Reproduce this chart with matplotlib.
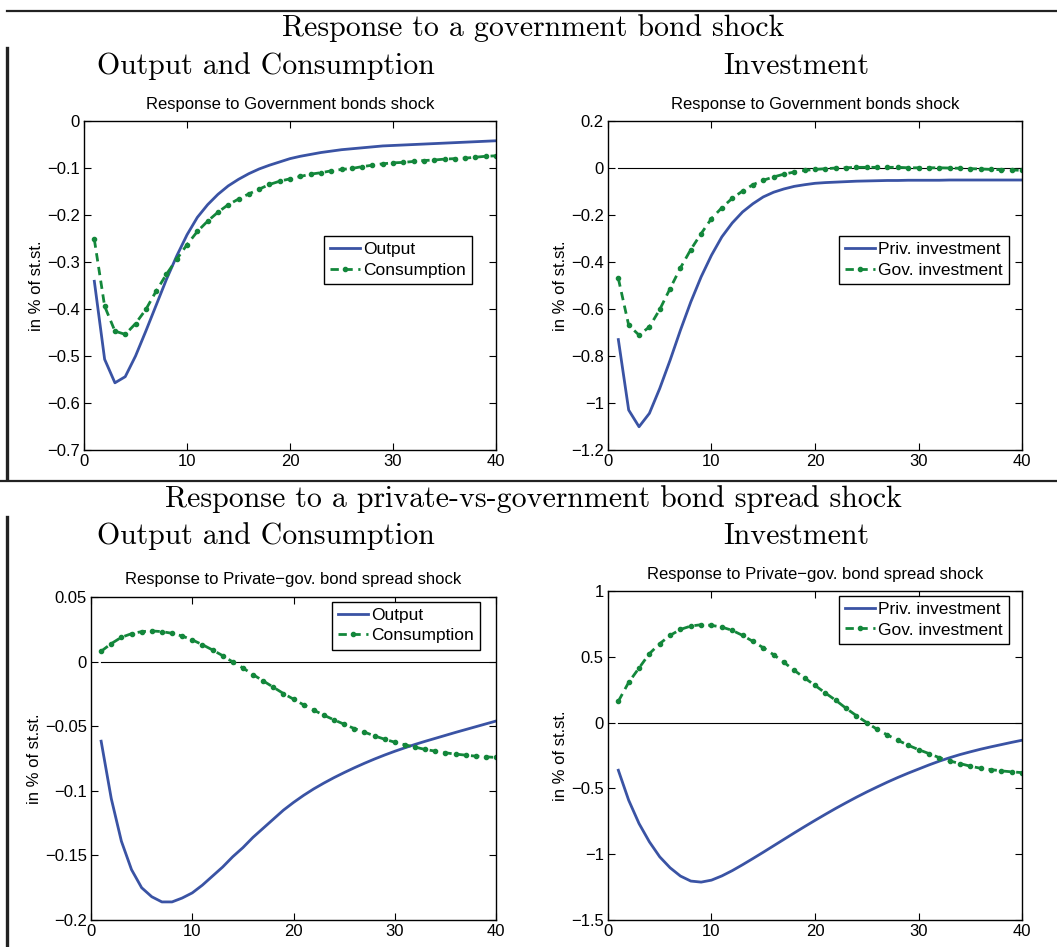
import matplotlib
matplotlib.use('Agg')
import matplotlib.pyplot as plt
from matplotlib.lines import Line2D

BLUE = '#3a53a4'
GREEN = '#13873b'

periods = list(range(1, 41))

# Government bond shock
gov_output = [-0.341, -0.507, -0.557, -0.544, -0.500, -0.447, -0.392, -0.337, -0.287, -0.242,
              -0.205, -0.178, -0.156, -0.138, -0.124, -0.112, -0.102, -0.094, -0.087, -0.080,
              -0.075, -0.071, -0.067, -0.064, -0.061, -0.059, -0.057, -0.055, -0.053, -0.052,
              -0.051, -0.050, -0.049, -0.048, -0.047, -0.046, -0.045, -0.044, -0.043, -0.042]
gov_consumption = [-0.252, -0.394, -0.447, -0.454, -0.431, -0.401, -0.362, -0.326, -0.294, -0.263,
                   -0.235, -0.213, -0.194, -0.178, -0.166, -0.155, -0.145, -0.135, -0.128, -0.123,
                   -0.118, -0.113, -0.110, -0.106, -0.103, -0.101, -0.097, -0.094, -0.091, -0.089,
                   -0.088, -0.086, -0.084, -0.083, -0.081, -0.080, -0.079, -0.077, -0.075, -0.074]
gov_priv_inv = [-0.730, -1.030, -1.101, -1.044, -0.938, -0.818, -0.690, -0.570, -0.463, -0.371,
                -0.293, -0.234, -0.187, -0.152, -0.123, -0.103, -0.089, -0.078, -0.071, -0.065,
                -0.062, -0.060, -0.058, -0.056, -0.055, -0.054, -0.053, -0.053, -0.052, -0.052,
                -0.052, -0.052, -0.051, -0.051, -0.051, -0.051, -0.051, -0.051, -0.051, -0.051]
gov_gov_inv = [-0.470, -0.669, -0.711, -0.676, -0.602, -0.513, -0.425, -0.347, -0.279, -0.215,
               -0.169, -0.129, -0.098, -0.071, -0.052, -0.038, -0.026, -0.017, -0.010, -0.006,
               -0.003, 0.000, 0.001, 0.003, 0.003, 0.003, 0.003, 0.003, 0.001, 0.001,
               0.001, 0.001, 0.000, -0.001, -0.003, -0.004, -0.006, -0.007, -0.008, -0.010]

# Private-vs-government bond spread shock
spr_output = [-0.0616, -0.106, -0.139, -0.161, -0.175, -0.182, -0.186, -0.186, -0.183, -0.179,
              -0.173, -0.166, -0.159, -0.151, -0.144, -0.136, -0.129, -0.122, -0.115, -0.109,
              -0.1035, -0.0985, -0.0940, -0.0898, -0.0859, -0.0822, -0.0787, -0.0754, -0.0723, -0.0694,
              -0.0667, -0.0641, -0.0617, -0.0594, -0.0571, -0.0548, -0.0526, -0.0504, -0.0482, -0.0460]
spr_consumption = [0.0080, 0.0139, 0.0188, 0.0216, 0.0232, 0.0237, 0.0232, 0.0219, 0.0198, 0.0168,
                   0.0131, 0.0090, 0.0046, -0.0003, -0.0049, -0.0101, -0.0149, -0.0198, -0.0247, -0.0291,
                   -0.0335, -0.0376, -0.0415, -0.0451, -0.0485, -0.0518, -0.0546, -0.0575, -0.0601, -0.0624,
                   -0.0644, -0.0662, -0.0680, -0.0693, -0.0706, -0.0716, -0.0724, -0.0732, -0.0737, -0.0742]
spr_priv_inv = [-0.362, -0.590, -0.767, -0.906, -1.020, -1.103, -1.166, -1.204, -1.212, -1.197,
                -1.165, -1.125, -1.080, -1.033, -0.985, -0.936, -0.887, -0.838, -0.790, -0.743,
                -0.697, -0.652, -0.609, -0.567, -0.527, -0.489, -0.452, -0.417, -0.384, -0.353,
                -0.322, -0.293, -0.267, -0.243, -0.222, -0.202, -0.184, -0.167, -0.150, -0.134]
spr_gov_inv = [0.162, 0.306, 0.415, 0.524, 0.600, 0.663, 0.708, 0.734, 0.744, 0.739,
               0.726, 0.701, 0.663, 0.617, 0.569, 0.516, 0.458, 0.397, 0.339, 0.283,
               0.225, 0.170, 0.109, 0.053, 0.000, -0.051, -0.094, -0.134, -0.172, -0.205,
               -0.235, -0.266, -0.291, -0.311, -0.331, -0.347, -0.357, -0.367, -0.374, -0.380]

gov_title = 'Response to Government bonds shock'
spr_title = 'Response to Private\u2212gov. bond spread shock'

plt.rcParams['font.family'] = ['Liberation Sans', 'DejaVu Sans']
SERIF = ['cmr10', 'DejaVu Serif']


def panel(fig, rect, y1, y2, labels, title, ylim, yticks, ytick_labels, zero_line, legend_loc):
    ax = fig.add_axes(rect)
    if zero_line:
        ax.plot([periods[0], periods[-1]], [0, 0], color='black', lw=0.8)
    ax.plot(periods, y1, color=BLUE, lw=2, label=labels[0])
    ax.plot(periods, y2, color=GREEN, lw=2, ls=(0, (3, 2)), marker='.', ms=6, label=labels[1])
    ax.set_xlim(0, 40)
    ax.set_ylim(*ylim)
    ax.set_xticks([0, 10, 20, 30, 40])
    ax.set_yticks(yticks)
    ax.set_yticklabels(ytick_labels)
    ax.tick_params(direction='in', top=True, right=True, labelsize=12, length=5, pad=3)
    ax.set_ylabel('in % of st.st.', fontsize=12, labelpad=2)
    ax.set_title(title, fontsize=12, pad=9)
    for s in ax.spines.values():
        s.set_linewidth(1)
    leg = ax.legend(loc='upper left', bbox_to_anchor=legend_loc, fontsize=12.5,
                    handlelength=1.7, handletextpad=0.2, borderpad=0.35, labelspacing=0.3,
                    borderaxespad=0, fancybox=False, edgecolor='black', framealpha=1)
    leg.get_frame().set_linewidth(1)
    return ax


fig = plt.figure(figsize=(10.57, 9.47), dpi=100)

panel(fig, [0.0795, 0.5248, 0.3898, 0.3474], gov_output, gov_consumption,
      ['Output', 'Consumption'], gov_title, (-0.7, 0),
      [-0.7, -0.6, -0.5, -0.4, -0.3, -0.2, -0.1, 0],
      ['\u22120.7', '\u22120.6', '\u22120.5', '\u22120.4', '\u22120.3', '\u22120.2', '\u22120.1', '0'],
      False, (0.583, 0.65))
panel(fig, [0.5752, 0.5248, 0.3917, 0.3474], gov_priv_inv, gov_gov_inv,
      ['Priv. investment', 'Gov. investment'], gov_title, (-1.2, 0.2),
      [-1.2, -1.0, -0.8, -0.6, -0.4, -0.2, 0, 0.2],
      ['\u22121.2', '\u22121', '\u22120.8', '\u22120.6', '\u22120.4', '\u22120.2', '0', '0.2'],
      True, (0.558, 0.65))
panel(fig, [0.0861, 0.0285, 0.3832, 0.3411], spr_output, spr_consumption,
      ['Output', 'Consumption'], spr_title, (-0.2, 0.05),
      [-0.2, -0.15, -0.1, -0.05, 0, 0.05],
      ['\u22120.2', '\u22120.15', '\u22120.1', '\u22120.05', '0', '0.05'],
      True, (0.595, 0.985))
panel(fig, [0.5752, 0.0285, 0.3917, 0.3474], spr_priv_inv, spr_gov_inv,
      ['Priv. investment', 'Gov. investment'], spr_title, (-1.5, 1),
      [-1.5, -1, -0.5, 0, 0.5, 1],
      ['\u22121.5', '\u22121', '\u22120.5', '0', '0.5', '1'],
      True, (0.558, 0.985))

# headings
fig.text(533 / 1057, 1 - 28 / 947, 'Response to a government bond shock', family=SERIF,
         fontsize=21.5, ha='center', va='center')
fig.text(266 / 1057, 1 - 66 / 947, 'Output and Consumption', family=SERIF,
         fontsize=21.5, ha='center', va='center')
fig.text(796 / 1057, 1 - 66 / 947, 'Investment', family=SERIF,
         fontsize=21.5, ha='center', va='center')
fig.text(533 / 1057, 1 - 499 / 947, 'Response to a private-vs-government bond spread shock', family=SERIF,
         fontsize=21.5, ha='center', va='center')
fig.text(266 / 1057, 1 - 536 / 947, 'Output and Consumption', family=SERIF,
         fontsize=21.5, ha='center', va='center')
fig.text(796 / 1057, 1 - 536 / 947, 'Investment', family=SERIF,
         fontsize=21.5, ha='center', va='center')

# rules and side bars
fig.add_artist(Line2D([7 / 1057, 1], [1 - 11 / 947] * 2, color='#222222', lw=1.6))
fig.add_artist(Line2D([0, 1], [1 - 481 / 947] * 2, color='#222222', lw=1.6))
fig.add_artist(Line2D([7 / 1057] * 2, [1 - 48 / 947, 1 - 479 / 947], color='#222222', lw=2.4))
fig.add_artist(Line2D([7 / 1057] * 2, [1 - 517 / 947, 0], color='#222222', lw=2.4))

fig.savefig('out.png', dpi=100)
